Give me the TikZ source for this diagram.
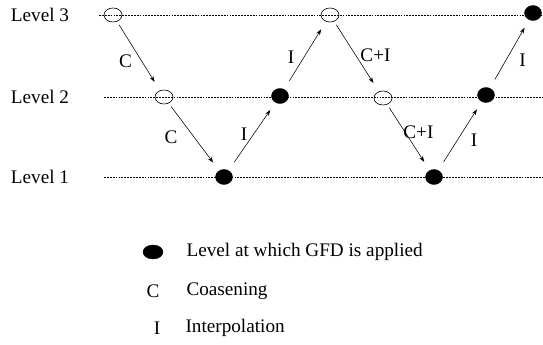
\documentclass[tikz,border=0pt]{standalone}
\usepackage{fontspec}
\setmainfont{Liberation Serif}
\usetikzlibrary{shapes.geometric, arrows.meta, positioning, calc}
\tikzset{
    levelline/.style={
        line width=0.6pt, dash pattern=on 1.8pt off 1.1pt
    },
    opengrid/.style={
        ellipse, draw=black, line width=0.6pt, minimum width=18pt,
        minimum height=14pt, inner sep=0pt
    },
    fullgrid/.style={
        ellipse, draw=black, fill=black, minimum width=17pt,
        minimum height=15pt, inner sep=0pt
    },
    downarrow/.style={
        -{Stealth[length=6pt, width=4pt]}, line width=0.55pt,
        shorten <=4pt, shorten >=10pt
    },
    uparrow/.style={
        -{Stealth[length=6pt, width=4pt]}, line width=0.55pt,
        shorten <=10pt, shorten >=9pt
    }
}

\begin{document}
\begin{tikzpicture}[x=1pt, y=-1pt, font=\fontsize{19.2}{22}\selectfont]

    \useasboundingbox (0,0) rectangle (543,345);

    % level names and grid lines
    \node (lev3) at (40,15)  {Level 3};
    \node (lev2) at (40,97)  {Level 2};
    \node (lev1) at (40,177) {Level 1};

    \coordinate (l3a) at (99,15);
    \coordinate (l3b) at (543,15);
    \coordinate (l2a) at (104,97);
    \coordinate (l2b) at (543,97);
    \coordinate (l1a) at (104,177);
    \coordinate (l1b) at (543,177);

    \draw[levelline] (l3a) -- (l3b);
    \draw[levelline] (l2a) -- (l2b);
    \draw[levelline] (l1a) -- (l1b);

    % grid points
    \node[opengrid] (a3) at (113,15)  {};
    \node[opengrid] (a2) at (164,97)  {};
    \node[fullgrid] (a1) at (224,177) {};
    \node[fullgrid] (b2) at (280,96)  {};
    \node[opengrid] (b3) at (330,15)  {};
    \node[opengrid] (c2) at (383,98)  {};
    \node[fullgrid] (c1) at (434,177) {};
    \node[fullgrid] (d2) at (486,95)  {};
    \node[fullgrid] (d3) at (533,13)  {};

    % cycle
    \draw[downarrow] (a3) -- (a2) node[midway, xshift=-13pt, yshift=-5pt] {C};
    \draw[downarrow] (a2) -- (a1) node[midway, xshift=-23pt] {C};
    \draw[uparrow]   (a1) -- (b2) node[midway, xshift=-8pt, yshift=2pt] {I};
    \draw[uparrow]   (b2) -- (b3) node[midway, xshift=-14pt, yshift=-2pt] {I};
    \draw[downarrow] (b3) -- (c2) node[midway, xshift=19pt, yshift=1pt] {C+I};
    \draw[downarrow] (c2) -- (c1) node[midway, xshift=10pt, yshift=5pt] {C+I};
    \draw[uparrow]   (c1) -- (d2) node[midway, xshift=14pt, yshift=-4pt] {I};
    \draw[uparrow]   (d2) -- (d3) node[midway, xshift=13pt, yshift=-6pt] {I};

    % legend
    \node[fullgrid, minimum width=20pt, minimum height=14pt] (key) at (153,252) {};
    \node[anchor=west] (keytxt) at (183,252) {Level at which GFD is applied};
    \node (keyc) at (153,291) {C};
    \node[anchor=west] (keyctxt) at (183,291) {Coasening};
    \node (keyi) at (157,328) {I};
    \node[anchor=west] (keyitxt) at (182,328) {Interpolation};

\end{tikzpicture}
\end{document}
